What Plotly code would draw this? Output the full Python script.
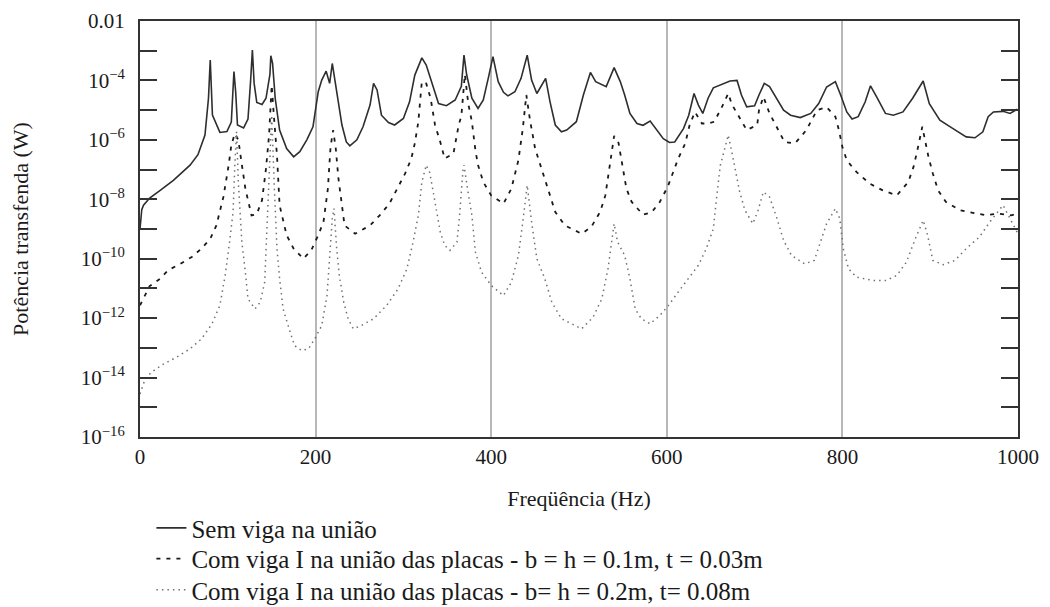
import plotly.graph_objects as go

# ---------------- data ----------------
# frequency in Hz, power given as log10(W)
solid_freq = [0, 2, 4, 11, 23, 38, 57, 66, 74, 78, 80, 82.5, 91, 99, 104, 107, 109, 111, 118, 123,
              126, 128, 130, 133, 139, 143.5, 148, 149, 151, 154, 159, 167, 175, 182, 190, 197,
              203, 207, 212, 216, 219, 224, 230, 235, 239, 247, 254, 262, 266, 270, 275, 283,
              290, 300, 307, 313, 321, 326, 332, 340, 349, 359, 366, 369, 372, 378, 385, 391,
              397, 402, 408, 414, 419, 427, 434, 441, 446, 452, 462, 467, 473, 480, 486, 497,
              505, 513, 519, 526, 531, 540, 547, 552, 558, 566, 573, 581, 589, 596, 603, 609,
              619, 625, 631, 636, 641, 647, 653, 661, 672, 680, 685, 691, 700, 705, 711, 717,
              725, 733, 741, 752, 764, 773, 782, 792, 798, 805, 811, 818, 826, 832, 839, 849,
              858, 869, 880, 892, 899, 911, 926, 941, 951, 960, 966, 972, 983, 991, 999]
solid_log10_power = [-9.0, -8.35, -8.2, -7.96, -7.7, -7.36, -6.85, -6.5, -5.84, -4.6, -3.31, -5.17,
                     -5.75, -5.72, -5.4, -3.7, -4.4, -5.5, -5.6, -5.3, -4.0, -2.98, -4.1, -4.74,
                     -4.81, -4.6, -3.8, -3.17, -3.43, -4.6, -5.67, -6.29, -6.57, -6.4, -6.0, -5.56,
                     -4.38, -3.99, -3.69, -4.1, -3.43, -4.38, -5.5, -6.07, -6.2, -6.0, -5.56, -4.83,
                     -4.1, -4.32, -5.17, -5.42, -5.5, -5.28, -4.72, -3.82, -3.24, -3.48, -4.04,
                     -4.78, -4.85, -4.66, -4.2, -3.15, -3.8, -4.6, -4.94, -4.66, -3.88, -3.2,
                     -4.04, -4.4, -4.52, -4.38, -3.93, -3.15, -3.99, -4.44, -3.93, -4.72, -5.5,
                     -5.73, -5.67, -5.39, -4.49, -3.73, -4.04, -4.13, -4.21, -3.57, -4.04, -4.49,
                     -5.11, -5.45, -5.51, -5.37, -5.67, -5.96, -6.09, -6.07, -5.62, -5.17, -4.44,
                     -4.83, -5.11, -4.6, -4.25, -4.16, -4.02, -4.0, -4.49, -4.89, -4.85, -4.49,
                     -4.1, -4.21, -4.6, -5.0, -5.17, -5.25, -5.11, -4.78, -4.22, -4.04, -4.49,
                     -5.06, -5.3, -5.22, -4.72, -4.18, -4.55, -5.11, -5.17, -5.06, -4.6, -4.02,
                     -4.78, -5.34, -5.62, -5.9, -5.93, -5.73, -5.22, -5.06, -5.04, -5.11, -4.97]

dashed_freq = [0, 4, 11, 23, 32, 46, 59, 70, 80, 87, 95, 101, 104, 108, 112, 115, 120, 127, 133,
               139, 143.5, 147, 150, 152, 156, 159, 167, 175, 186, 195, 203, 209, 214, 217, 220,
               223, 226, 233, 245, 262, 273, 284, 294, 302, 309, 313, 317, 321, 326, 331, 336,
               342, 347, 357, 363, 366, 370, 374, 378, 382, 385, 391, 400, 414, 423, 431, 436,
               440, 444, 450, 456, 463, 473, 484, 503, 514, 524, 530, 535, 540, 545, 549, 554,
               560, 573, 583, 592, 601, 607, 613, 621, 626, 632, 640, 647, 654, 662, 670, 674,
               682, 691, 703, 705, 710, 717, 727, 734, 746, 759, 771, 782, 792, 796, 800, 805,
               816, 831, 846, 862, 875, 881, 885, 891, 898, 903, 909, 918, 934, 949, 964, 976,
               985, 992, 1000]
dashed_log10_power = [-11.57, -11.35, -10.92, -10.67, -10.39, -10.17, -9.94, -9.66, -9.33, -8.88,
                      -7.92, -6.85, -6.18, -5.79, -6.0, -6.63, -7.64, -8.54, -8.5, -8.03, -6.97,
                      -5.84, -4.16, -5.0, -6.52, -8.2, -9.21, -9.66, -10.0, -9.72, -9.21, -8.76,
                      -7.64, -6.24, -5.67, -6.3, -7.3, -8.88, -9.16, -8.88, -8.54, -8.15, -7.58,
                      -7.13, -6.63, -6.12, -5.39, -4.04, -4.1, -4.6, -5.5, -6.07, -6.63, -6.46,
                      -5.5, -5.2, -3.8, -4.8, -5.39, -6.35, -6.85, -7.42, -7.87, -8.15, -7.64,
                      -6.68, -5.62, -4.49, -5.3, -6.29, -6.85, -7.47, -8.43, -8.88, -9.16, -8.93,
                      -8.43, -7.87, -6.91, -5.87, -6.1, -6.74, -7.64, -8.09, -8.52, -8.43, -8.09,
                      -7.58, -7.08, -6.63, -6.12, -5.5, -5.06, -5.45, -5.45, -5.39, -4.94, -4.44,
                      -4.8, -5.22, -5.67, -5.5, -5.0, -4.55, -5.11, -5.67, -6.07, -6.12, -5.67,
                      -5.0, -4.9, -5.22, -5.67, -6.24, -6.69, -7.08, -7.47, -7.7, -7.87, -7.42,
                      -6.91, -6.4, -5.56, -6.57, -7.13, -7.7, -8.09, -8.37, -8.46, -8.54, -8.48,
                      -8.52, -8.54, -8.49]

dotted_freq = [0, 6, 13, 27, 42, 57, 70, 82, 91, 97, 102, 106, 108, 110, 112, 116, 120, 123, 131,
               137, 142, 145, 148, 150, 153, 156, 159, 163, 171, 176, 184, 192, 199, 207, 213,
               216, 219, 221, 224, 227, 232, 237, 243, 252, 266, 281, 294, 304, 311, 317, 321,
               326, 330, 336, 342, 347, 353, 361, 364, 368, 369, 373, 378, 382, 389, 400, 414,
               423, 431, 436, 441, 446, 452, 461, 469, 480, 503, 516, 526, 533, 537, 540, 544,
               552, 558, 564, 571, 581, 592, 602, 613, 625, 636, 645, 653, 657, 661, 664, 670,
               674, 678, 683, 689, 698, 704, 710, 717, 725, 733, 742, 757, 768, 775, 782, 792,
               797, 801, 807, 816, 835, 850, 862, 873, 883, 892, 897, 903, 915, 928, 941, 956,
               968, 983, 991, 1000]
dotted_log10_power = [-14.55, -14.04, -13.82, -13.54, -13.31, -13.03, -12.7, -12.19, -11.57,
                      -10.56, -9.44, -8.43, -6.85, -5.73, -7.42, -9.44, -10.45, -11.35, -11.69,
                      -11.46, -10.79, -8.76, -6.63, -5.17, -7.6, -9.66, -10.67, -11.69, -12.47,
                      -12.92, -13.09, -13.03, -12.7, -12.25, -11.24, -10.0, -8.65, -8.31, -9.66,
                      -10.56, -11.46, -12.02, -12.36, -12.25, -12.02, -11.57, -11.01, -10.34,
                      -9.44, -8.54, -7.42, -6.85, -7.1, -8.09, -9.1, -9.55, -9.72, -9.44, -8.54,
                      -6.97, -6.85, -7.64, -8.54, -9.78, -10.45, -10.9, -11.24, -10.79, -9.89,
                      -8.76, -7.53, -8.76, -10.0, -10.67, -11.46, -12.02, -12.36, -11.97, -11.35,
                      -10.34, -9.44, -8.82, -9.44, -9.89, -10.67, -11.69, -12.02, -12.19, -11.91,
                      -11.57, -11.12, -10.67, -10.22, -9.66, -8.99, -7.87, -6.85, -6.52, -5.84,
                      -6.4, -6.97, -7.75, -8.37, -8.82, -8.37, -7.75, -7.92, -8.6, -9.38, -9.89,
                      -10.17, -10.06, -9.44, -8.82, -8.31, -8.65, -9.66, -10.34, -10.62, -10.73,
                      -10.73, -10.56, -10.11, -9.33, -8.71, -9.2, -10.06, -10.2, -10.06, -9.66,
                      -9.27, -8.76, -8.2, -8.65, -9.16]

series_names = [
    "Sem viga na união",
    "Com viga I na união das placas - b = h = 0.1m, t = 0.03m",
    "Com viga I na união das placas - b= h = 0.2m, t= 0.08m",
]

x_tick_values = [0, 200, 400, 600, 800, 1000]
y_label_exponents = [-16, -14, -12, -10, -8, -6, -4, -2]
y_tick_labels = ["10<sup>−16</sup>", "10<sup>−14</sup>", "10<sup>−12</sup>", "10<sup>−10</sup>",
                 "10<sup>−8</sup>", "10<sup>−6</sup>", "10<sup>−4</sup>", "0.01"]
y_minor_exponents = [-15, -13, -11, -9, -7, -5, -3]

# ---------------- figure ----------------
FONT = "Liberation Serif"
INK = "#1a1a1a"
AXIS = "#333333"

fig = go.Figure()
fig.add_trace(go.Scatter(x=solid_freq, y=[10 ** v for v in solid_log10_power],
                         mode="lines", name=series_names[0], legend="legend",
                         line=dict(color="#2e2e2e", width=1.6)))
fig.add_trace(go.Scatter(x=dashed_freq, y=[10 ** v for v in dashed_log10_power],
                         mode="lines", name=series_names[1], legend="legend2",
                         line=dict(color="#1a1a1a", width=1.8, dash="4px,6px")))
fig.add_trace(go.Scatter(x=dotted_freq, y=[10 ** v for v in dotted_log10_power],
                         mode="lines", name=series_names[2], legend="legend3",
                         line=dict(color="#707070", width=1.5, dash="1.5px,4px")))

legend_style = dict(x=0.013, xanchor="left", yanchor="middle",
                    font=dict(family=FONT, size=25, color=INK),
                    bgcolor="rgba(0,0,0,0)", itemwidth=30, borderwidth=0)

fig.update_layout(
    width=1050, height=607,
    margin=dict(l=140, r=32, t=21, b=170, autoexpand=False),
    paper_bgcolor="white", plot_bgcolor="white",
    font=dict(family=FONT, size=21, color=INK),
    showlegend=True,
    legend=dict(y=-0.219, **legend_style),
    legend2=dict(y=-0.293, **legend_style),
    legend3=dict(y=-0.368, **legend_style),
)

fig.update_xaxes(
    range=[0, 1000], tickvals=x_tick_values, ticks="",
    showgrid=True, gridcolor="#b8b8b8", gridwidth=1.6,
    showline=True, linecolor=AXIS, linewidth=2, mirror=True,
    zeroline=False,
    tickfont=dict(family=FONT, size=21, color=INK),
    title=dict(text="Freqüência (Hz)", font=dict(family=FONT, size=22, color=INK), standoff=22),
)
fig.update_yaxes(
    type="log", range=[-16, -2],
    tickvals=[10 ** e for e in y_label_exponents], ticktext=y_tick_labels,
    ticks="inside", ticklen=17, tickwidth=2, tickcolor=AXIS,
    minor=dict(tickvals=[10 ** e for e in y_minor_exponents], ticks="inside",
               ticklen=17, tickwidth=2, tickcolor=AXIS, showgrid=False),
    showgrid=False, zeroline=False,
    showline=True, linecolor=AXIS, linewidth=2, mirror="ticks",
    ticklabelstandoff=9,
    tickfont=dict(family=FONT, size=21, color=INK),
    title=dict(text="Potência transfenda (W)", font=dict(family=FONT, size=22, color=INK), standoff=46),
)

fig.write_html("out.html")
